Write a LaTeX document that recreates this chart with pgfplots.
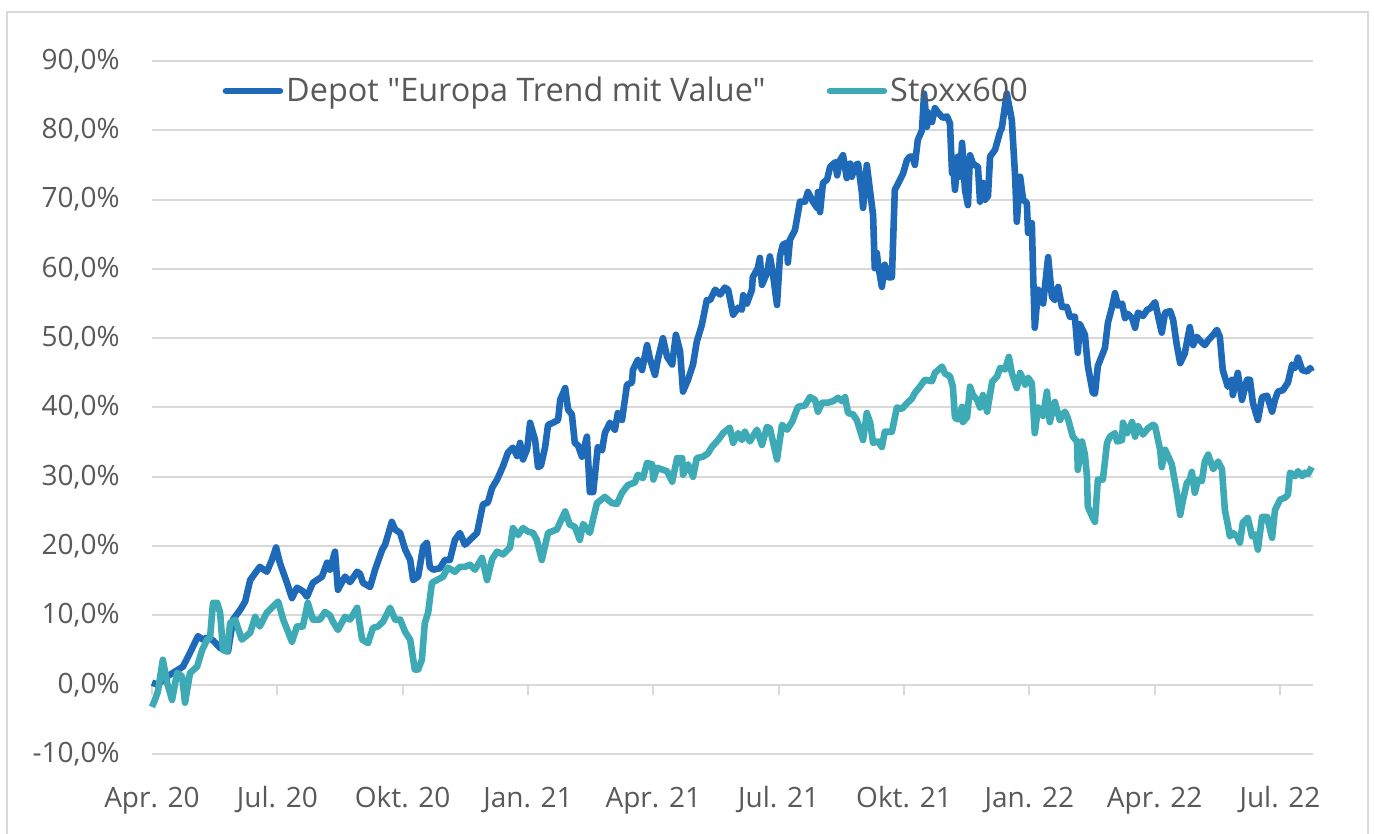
\documentclass[border=0pt]{standalone}
\usepackage{pgfplots}
\pgfplotsset{compat=1.18}
\usepackage{fontspec}
\setmainfont[Ligatures=TeXOff]{Open Sans}
\definecolor{depot}{HTML}{1E6AB9}
\definecolor{stoxx}{HTML}{3DAAB5}
\definecolor{gridc}{HTML}{D9D9D9}
\definecolor{txt}{HTML}{595959}
\begin{document}
\begin{tikzpicture}
\useasboundingbox (-76pt,-40pt) rectangle (611pt,377pt);
\draw[gridc, line width=0.8pt] (-72.5pt,-40pt) -- (-72.5pt,371pt) -- (608pt,371pt) -- (608pt,-40pt);
\begin{axis}[
  scale only axis,
  width=580.5pt, height=346.5pt,
  xmin=0, xmax=27.79, ymin=-10, ymax=90,
  axis line style={draw=none},
  major tick length=0pt,
  xtick={0,3,...,27},
  xticklabels={Apr. 20, Jul. 20, Okt. 20, Jan. 21, Apr. 21, Jul. 21, Okt. 21, Jan. 22, Apr. 22, Jul. 22},
  ytick={-10,0,...,90},
  yticklabels={{-10,0\%},{0,0\%},{10,0\%},{20,0\%},{30,0\%},{40,0\%},{50,0\%},{60,0\%},{70,0\%},{80,0\%},{90,0\%}},
  ymajorgrids,
  grid style={gridc, line width=1pt},
  tick label style={font=\fontsize{14}{16}\selectfont, text=txt},
  yticklabel style={anchor=east, inner sep=0pt, xshift=-16pt},
  xticklabel style={anchor=base, inner sep=0pt, yshift=-26.5pt},
  legend style={at={(0.0605,0.9567)}, anchor=west, draw=none, fill=none,
    font=\fontsize{16.2}{18}\selectfont, text=txt, legend columns=2,
    inner sep=0pt, nodes={inner sep=1.5pt},
    /tikz/every even column/.append style={column sep=29pt}},
  legend image code/.code={\draw[#1, line cap=round] (0pt,0pt) -- (27pt,0pt);},
  clip=false,
]
\pgfplotsinvokeforeach{0,3,...,27}{\draw[gridc, line width=1pt] (axis cs:#1,0) -- ++(0pt,-5pt);}
\addplot[depot, line width=3.3pt, line join=round] table {
0.00 0.3
0.14 0.0
0.31 1.0
0.50 1.7
0.74 2.6
0.91 4.6
1.10 7.0
1.22 6.5
1.32 6.8
1.46 6.4
1.63 5.3
1.82 4.8
1.94 9.4
2.11 10.8
2.23 12.0
2.35 15.1
2.47 16.1
2.58 17.0
2.75 16.3
2.87 18.0
2.97 19.8
3.06 17.6
3.23 14.7
3.35 12.5
3.47 14.0
3.61 13.5
3.71 12.7
3.85 14.7
4.07 15.6
4.19 17.6
4.26 16.6
4.38 19.2
4.45 13.7
4.62 15.6
4.74 14.8
4.91 16.3
4.98 16.0
5.05 14.7
5.22 14.1
5.34 16.6
5.51 19.5
5.58 20.2
5.74 23.5
5.82 22.4
5.94 21.9
6.06 19.5
6.18 18.0
6.25 15.1
6.37 15.6
6.49 19.9
6.58 20.5
6.65 17.0
6.73 16.6
6.89 16.8
7.01 18.0
7.13 18.0
7.25 20.9
7.37 21.9
7.49 20.2
7.61 20.9
7.78 21.9
7.92 26.0
8.04 26.3
8.14 28.4
8.26 29.6
8.40 31.5
8.52 33.5
8.64 34.2
8.74 33.0
8.81 34.9
8.88 32.5
8.98 34.0
9.05 37.8
9.17 35.3
9.24 31.4
9.31 31.6
9.41 34.3
9.48 37.5
9.60 37.8
9.72 38.2
9.77 41.1
9.89 42.8
9.96 39.7
10.05 39.0
10.12 34.9
10.20 34.5
10.29 32.9
10.41 35.8
10.48 27.8
10.56 27.8
10.67 34.3
10.77 33.8
10.84 36.3
10.96 37.8
11.08 36.8
11.15 39.2
11.25 38.2
11.37 43.3
11.49 43.6
11.51 45.4
11.63 46.9
11.73 45.4
11.85 49.0
11.92 47.0
12.04 44.7
12.11 47.0
12.23 50.0
12.33 47.3
12.45 46.2
12.54 50.5
12.64 48.1
12.71 42.3
12.83 44.0
12.95 46.2
13.04 49.5
13.16 51.9
13.28 55.5
13.36 55.5
13.48 57.0
13.60 56.3
13.71 57.3
13.79 57.0
13.91 53.4
14.03 54.4
14.12 54.1
14.15 56.2
14.24 55.0
14.36 57.0
14.38 58.8
14.50 60.1
14.55 61.6
14.60 57.7
14.72 59.4
14.79 61.8
14.86 59.4
14.96 54.8
15.03 61.8
15.10 63.5
15.20 63.8
15.22 60.9
15.27 64.2
15.39 65.6
15.46 68.0
15.51 69.7
15.63 69.7
15.70 71.1
15.82 69.7
15.92 68.8
15.94 71.1
15.99 68.2
16.06 72.4
16.16 72.9
16.23 74.7
16.35 75.4
16.40 73.5
16.47 75.7
16.54 76.4
16.63 73.1
16.71 75.2
16.75 73.3
16.83 74.9
16.90 75.2
16.99 71.1
17.02 68.8
17.11 75.0
17.19 71.1
17.26 67.8
17.30 60.1
17.35 62.3
17.38 60.6
17.47 57.4
17.54 60.6
17.62 58.8
17.71 58.8
17.78 71.4
17.90 72.8
17.98 73.8
18.07 75.7
18.14 76.2
18.21 76.2
18.26 75.0
18.33 78.6
18.43 80.0
18.48 85.3
18.55 80.5
18.57 82.6
18.67 81.2
18.74 83.2
18.81 82.6
18.93 81.8
19.03 82.0
19.10 81.0
19.15 73.8
19.17 75.5
19.22 71.4
19.29 76.2
19.34 73.3
19.39 78.2
19.46 71.4
19.53 69.2
19.58 76.4
19.65 75.2
19.77 74.7
19.82 69.7
19.89 72.4
19.94 70.0
20.01 70.5
20.06 76.2
20.18 77.2
20.30 79.8
20.34 80.3
20.46 85.3
20.58 81.5
20.66 73.3
20.70 66.8
20.78 73.3
20.85 70.0
20.94 69.5
20.97 65.2
21.06 66.6
21.09 59.4
21.13 51.5
21.21 57.0
21.33 55.0
21.45 61.7
21.54 56.0
21.61 55.5
21.69 57.4
21.78 54.5
21.90 54.5
21.97 53.1
22.09 53.1
22.16 47.9
22.21 52.0
22.33 50.5
22.40 46.0
22.52 42.1
22.57 42.0
22.64 46.0
22.81 48.6
22.88 52.2
22.98 54.5
23.05 56.5
23.12 54.7
23.22 55.0
23.29 52.9
23.36 53.5
23.46 52.9
23.53 51.5
23.60 53.7
23.72 53.2
23.82 54.1
23.89 54.3
24.01 55.2
24.08 53.2
24.17 50.8
24.25 53.7
24.37 53.9
24.44 52.7
24.53 49.0
24.61 46.4
24.72 47.8
24.84 51.6
24.92 49.0
25.01 50.2
25.08 49.7
25.20 49.0
25.28 49.7
25.40 50.5
25.49 51.2
25.56 50.2
25.63 45.4
25.75 43.0
25.85 44.0
25.87 41.8
25.99 45.0
26.09 41.1
26.21 44.0
26.28 44.0
26.35 40.7
26.47 38.2
26.57 41.5
26.69 41.7
26.81 39.4
26.88 41.1
26.95 42.3
27.07 42.5
27.19 43.6
27.29 46.2
27.36 45.7
27.43 47.2
27.53 45.4
27.65 45.2
27.72 45.7
27.76 45.2
};
\addlegendentry{Depot "Europa Trend mit Value"}
\addplot[stoxx, line width=3.3pt, line join=round] table {
0.00 -3.2
0.07 -2.2
0.14 -1.0
0.26 3.6
0.36 0.3
0.48 -2.2
0.60 1.7
0.72 1.2
0.79 -2.6
0.91 1.7
1.08 2.6
1.20 5.0
1.32 6.5
1.39 6.8
1.46 11.8
1.56 11.8
1.63 10.4
1.70 5.0
1.80 4.8
1.87 8.9
1.99 9.4
2.15 6.5
2.35 7.5
2.47 9.8
2.58 8.4
2.75 10.4
2.90 11.3
3.02 12.0
3.14 9.4
3.35 6.2
3.47 8.4
3.61 8.4
3.73 11.8
3.85 9.4
4.02 9.4
4.14 10.5
4.26 10.0
4.33 9.1
4.45 7.9
4.62 9.8
4.74 9.4
4.91 11.1
5.03 6.5
5.17 6.0
5.29 8.2
5.41 8.4
5.53 9.1
5.70 11.1
5.82 9.4
5.94 9.4
6.06 7.6
6.18 6.5
6.29 2.2
6.37 2.2
6.46 3.6
6.53 8.9
6.61 10.4
6.70 14.7
6.82 15.1
6.97 15.6
7.08 16.9
7.25 16.3
7.37 17.0
7.49 17.0
7.61 17.3
7.73 16.6
7.90 18.3
8.02 15.1
8.14 18.1
8.26 19.2
8.40 18.8
8.57 19.8
8.64 22.6
8.76 21.6
8.88 22.6
9.00 22.1
9.12 21.9
9.21 20.9
9.33 18.0
9.48 21.9
9.69 22.4
9.89 25.0
10.00 23.1
10.12 22.8
10.24 20.9
10.32 23.2
10.48 21.9
10.65 26.2
10.84 27.1
11.01 26.2
11.13 26.1
11.25 27.7
11.39 28.8
11.56 29.2
11.63 30.3
11.75 29.8
11.85 32.0
11.97 31.8
12.00 29.6
12.09 31.3
12.33 30.8
12.45 29.3
12.57 32.7
12.69 32.7
12.71 30.3
12.83 31.8
12.95 30.0
13.04 32.7
13.19 32.9
13.31 33.4
13.40 34.3
13.55 35.3
13.67 36.3
13.83 37.1
13.91 34.9
14.03 36.3
14.12 35.3
14.19 36.5
14.31 35.1
14.48 36.8
14.60 34.6
14.72 37.2
14.79 37.0
14.96 32.5
15.08 37.5
15.20 36.8
15.32 37.9
15.46 40.1
15.63 40.3
15.75 41.5
15.87 41.1
15.94 39.4
16.04 40.7
16.18 40.7
16.30 40.9
16.42 41.4
16.52 40.9
16.59 41.5
16.66 39.2
16.78 39.0
16.87 38.2
17.02 35.3
17.11 39.2
17.19 37.8
17.26 34.9
17.38 35.1
17.47 34.3
17.54 36.5
17.71 36.5
17.83 40.0
17.95 39.8
18.07 40.6
18.19 41.3
18.26 42.1
18.38 43.0
18.50 44.0
18.67 43.8
18.74 45.0
18.91 45.9
18.98 44.9
19.10 44.5
19.17 43.0
19.22 38.5
19.29 38.3
19.39 40.1
19.41 37.9
19.51 38.6
19.58 43.0
19.65 41.8
19.75 41.1
19.82 40.0
19.89 41.8
19.99 39.4
20.11 43.7
20.23 44.5
20.30 45.7
20.42 45.5
20.51 47.3
20.58 45.0
20.70 42.8
20.78 45.0
20.90 43.3
20.97 44.3
21.06 43.5
21.13 36.3
21.21 40.0
21.33 38.8
21.42 42.3
21.49 37.9
21.61 40.8
21.73 38.2
21.85 39.4
21.92 38.5
22.04 35.8
22.14 35.1
22.16 31.0
22.26 35.1
22.33 33.2
22.38 30.0
22.40 25.7
22.50 24.3
22.57 23.5
22.64 29.6
22.76 29.6
22.86 34.9
22.93 35.8
23.05 36.3
23.10 35.1
23.22 35.3
23.24 37.8
23.34 36.3
23.46 37.9
23.53 35.8
23.60 37.3
23.72 36.1
23.84 37.0
23.96 37.5
24.01 37.3
24.13 33.9
24.17 31.4
24.25 33.9
24.32 33.0
24.41 31.8
24.53 27.7
24.61 24.5
24.68 26.7
24.77 29.1
24.84 29.6
24.89 30.7
24.96 27.7
25.04 29.6
25.13 29.4
25.20 32.2
25.28 33.2
25.40 31.1
25.52 32.2
25.61 31.1
25.68 25.2
25.75 23.1
25.80 21.4
25.87 21.9
25.97 21.4
26.04 20.5
26.11 23.4
26.23 24.1
26.33 21.4
26.40 21.7
26.47 19.5
26.57 24.2
26.69 24.2
26.81 21.2
26.88 25.2
27.00 26.7
27.12 27.0
27.19 27.4
27.24 30.6
27.36 30.1
27.43 30.8
27.53 30.1
27.60 30.6
27.67 30.4
27.76 31.4
};
\addlegendentry{Stoxx600}
\end{axis}
\end{tikzpicture}
\end{document}
